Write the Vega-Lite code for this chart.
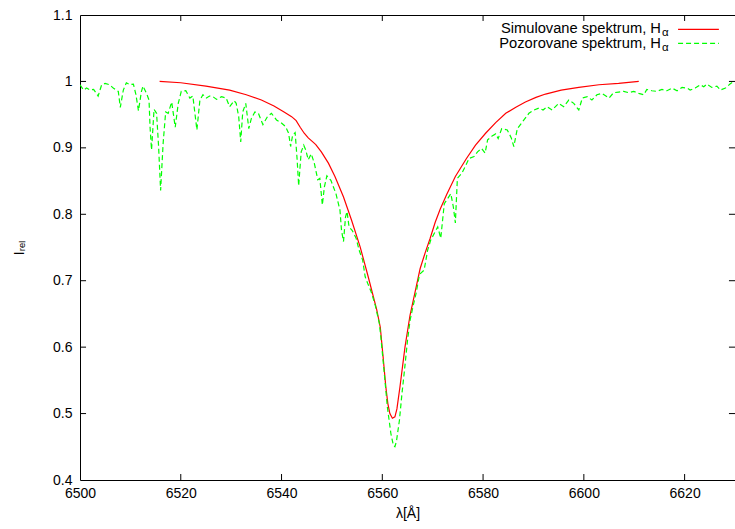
{
  "$schema": "https://vega.github.io/schema/vega-lite/v6.json",
  "width": 655,
  "height": 465,
  "autosize": {"type": "none"},
  "padding": {"left": 80, "top": 15, "right": 0, "bottom": 49},
  "config": {
    "font": "Liberation Sans",
    "view": {"stroke": "#000000", "strokeWidth": 1}
  },
  "datasets": {
    "sim": [
      {"lambda": 6515.8, "I": 1.000}, {"lambda": 6520.0, "I": 0.998}, {"lambda": 6525.0, "I": 0.993},
      {"lambda": 6529.7, "I": 0.987}, {"lambda": 6533.0, "I": 0.980}, {"lambda": 6536.0, "I": 0.972},
      {"lambda": 6538.5, "I": 0.963}, {"lambda": 6540.5, "I": 0.954}, {"lambda": 6542.0, "I": 0.947},
      {"lambda": 6542.9, "I": 0.941}, {"lambda": 6543.7, "I": 0.931}, {"lambda": 6544.5, "I": 0.922},
      {"lambda": 6545.3, "I": 0.915}, {"lambda": 6546.2, "I": 0.909}, {"lambda": 6546.8, "I": 0.905},
      {"lambda": 6547.9, "I": 0.894}, {"lambda": 6549.3, "I": 0.877}, {"lambda": 6550.6, "I": 0.857},
      {"lambda": 6552.3, "I": 0.826}, {"lambda": 6553.9, "I": 0.791}, {"lambda": 6555.6, "I": 0.751},
      {"lambda": 6557.2, "I": 0.706}, {"lambda": 6558.9, "I": 0.656}, {"lambda": 6559.6, "I": 0.630},
      {"lambda": 6560.1, "I": 0.590}, {"lambda": 6560.7, "I": 0.540}, {"lambda": 6561.1, "I": 0.515},
      {"lambda": 6561.5, "I": 0.500}, {"lambda": 6562.0, "I": 0.493}, {"lambda": 6562.5, "I": 0.495},
      {"lambda": 6562.9, "I": 0.507}, {"lambda": 6563.5, "I": 0.540}, {"lambda": 6564.5, "I": 0.600},
      {"lambda": 6565.5, "I": 0.648}, {"lambda": 6566.5, "I": 0.683}, {"lambda": 6567.5, "I": 0.718},
      {"lambda": 6568.5, "I": 0.742}, {"lambda": 6569.5, "I": 0.764}, {"lambda": 6570.5, "I": 0.788},
      {"lambda": 6571.5, "I": 0.808}, {"lambda": 6572.8, "I": 0.830}, {"lambda": 6574.5, "I": 0.857},
      {"lambda": 6576.7, "I": 0.884}, {"lambda": 6578.5, "I": 0.904}, {"lambda": 6580.5, "I": 0.922},
      {"lambda": 6582.5, "I": 0.938}, {"lambda": 6584.5, "I": 0.952}, {"lambda": 6586.5, "I": 0.961},
      {"lambda": 6588.4, "I": 0.969}, {"lambda": 6590.5, "I": 0.976}, {"lambda": 6592.4, "I": 0.981},
      {"lambda": 6595.5, "I": 0.987}, {"lambda": 6599.0, "I": 0.991}, {"lambda": 6603.0, "I": 0.995},
      {"lambda": 6606.9, "I": 0.997}, {"lambda": 6610.9, "I": 1.000}
    ],
    "obs": [
      {"lambda": 6500.0, "I": 0.995}, {"lambda": 6500.7, "I": 0.987}, {"lambda": 6501.3, "I": 0.990},
      {"lambda": 6502.0, "I": 0.987}, {"lambda": 6502.7, "I": 0.988}, {"lambda": 6503.6, "I": 0.978},
      {"lambda": 6504.3, "I": 0.995}, {"lambda": 6505.0, "I": 0.997}, {"lambda": 6505.9, "I": 0.995},
      {"lambda": 6506.6, "I": 0.990}, {"lambda": 6507.6, "I": 0.985}, {"lambda": 6508.0, "I": 0.961},
      {"lambda": 6508.6, "I": 0.987}, {"lambda": 6509.2, "I": 0.998}, {"lambda": 6509.9, "I": 0.995},
      {"lambda": 6510.6, "I": 0.996}, {"lambda": 6511.1, "I": 0.980}, {"lambda": 6511.6, "I": 0.956},
      {"lambda": 6512.2, "I": 0.985}, {"lambda": 6512.5, "I": 0.993}, {"lambda": 6513.2, "I": 0.982},
      {"lambda": 6513.7, "I": 0.972}, {"lambda": 6513.9, "I": 0.932}, {"lambda": 6514.2, "I": 0.897},
      {"lambda": 6514.7, "I": 0.958}, {"lambda": 6515.2, "I": 0.952}, {"lambda": 6515.6, "I": 0.902},
      {"lambda": 6516.0, "I": 0.836}, {"lambda": 6516.5, "I": 0.907}, {"lambda": 6517.0, "I": 0.954},
      {"lambda": 6517.5, "I": 0.952}, {"lambda": 6518.2, "I": 0.969}, {"lambda": 6518.9, "I": 0.931},
      {"lambda": 6519.5, "I": 0.967}, {"lambda": 6520.1, "I": 0.985}, {"lambda": 6521.0, "I": 0.986},
      {"lambda": 6521.8, "I": 0.975}, {"lambda": 6522.4, "I": 0.978}, {"lambda": 6523.2, "I": 0.927},
      {"lambda": 6523.8, "I": 0.972}, {"lambda": 6524.4, "I": 0.980}, {"lambda": 6525.1, "I": 0.975},
      {"lambda": 6525.7, "I": 0.978}, {"lambda": 6526.4, "I": 0.977}, {"lambda": 6527.1, "I": 0.973},
      {"lambda": 6528.1, "I": 0.977}, {"lambda": 6529.0, "I": 0.975}, {"lambda": 6529.7, "I": 0.962},
      {"lambda": 6530.6, "I": 0.971}, {"lambda": 6531.0, "I": 0.967}, {"lambda": 6531.5, "I": 0.947},
      {"lambda": 6531.9, "I": 0.909}, {"lambda": 6532.3, "I": 0.954}, {"lambda": 6532.9, "I": 0.967},
      {"lambda": 6533.5, "I": 0.929}, {"lambda": 6534.0, "I": 0.944}, {"lambda": 6534.7, "I": 0.954},
      {"lambda": 6535.4, "I": 0.952}, {"lambda": 6536.3, "I": 0.935}, {"lambda": 6537.2, "I": 0.947},
      {"lambda": 6538.0, "I": 0.952}, {"lambda": 6539.0, "I": 0.942}, {"lambda": 6539.9, "I": 0.938},
      {"lambda": 6540.8, "I": 0.932}, {"lambda": 6541.4, "I": 0.922}, {"lambda": 6541.8, "I": 0.902},
      {"lambda": 6542.2, "I": 0.919}, {"lambda": 6542.7, "I": 0.923}, {"lambda": 6543.1, "I": 0.882},
      {"lambda": 6543.4, "I": 0.843}, {"lambda": 6543.9, "I": 0.894}, {"lambda": 6544.4, "I": 0.904},
      {"lambda": 6544.8, "I": 0.897}, {"lambda": 6545.3, "I": 0.882}, {"lambda": 6545.9, "I": 0.891},
      {"lambda": 6546.5, "I": 0.877}, {"lambda": 6547.2, "I": 0.852}, {"lambda": 6547.6, "I": 0.854},
      {"lambda": 6548.1, "I": 0.814}, {"lambda": 6548.5, "I": 0.841}, {"lambda": 6549.0, "I": 0.858},
      {"lambda": 6549.8, "I": 0.851}, {"lambda": 6550.8, "I": 0.831}, {"lambda": 6551.6, "I": 0.806},
      {"lambda": 6551.9, "I": 0.776}, {"lambda": 6552.3, "I": 0.759}, {"lambda": 6552.7, "I": 0.796},
      {"lambda": 6553.0, "I": 0.804}, {"lambda": 6553.4, "I": 0.781}, {"lambda": 6554.0, "I": 0.776},
      {"lambda": 6554.8, "I": 0.764}, {"lambda": 6555.4, "I": 0.746}, {"lambda": 6556.1, "I": 0.731},
      {"lambda": 6556.6, "I": 0.706}, {"lambda": 6557.1, "I": 0.696}, {"lambda": 6557.8, "I": 0.683},
      {"lambda": 6558.6, "I": 0.663}, {"lambda": 6559.4, "I": 0.636}, {"lambda": 6559.7, "I": 0.616},
      {"lambda": 6560.4, "I": 0.560}, {"lambda": 6561.0, "I": 0.510}, {"lambda": 6561.7, "I": 0.470},
      {"lambda": 6562.2, "I": 0.452}, {"lambda": 6562.5, "I": 0.450}, {"lambda": 6562.8, "I": 0.458},
      {"lambda": 6563.4, "I": 0.490}, {"lambda": 6563.9, "I": 0.530}, {"lambda": 6564.4, "I": 0.565},
      {"lambda": 6565.0, "I": 0.610}, {"lambda": 6565.5, "I": 0.640}, {"lambda": 6566.0, "I": 0.658},
      {"lambda": 6566.7, "I": 0.681}, {"lambda": 6567.3, "I": 0.706}, {"lambda": 6567.6, "I": 0.711},
      {"lambda": 6568.3, "I": 0.716}, {"lambda": 6569.0, "I": 0.746}, {"lambda": 6569.6, "I": 0.761},
      {"lambda": 6570.3, "I": 0.771}, {"lambda": 6571.0, "I": 0.781}, {"lambda": 6571.6, "I": 0.764},
      {"lambda": 6572.3, "I": 0.816}, {"lambda": 6573.0, "I": 0.824}, {"lambda": 6573.6, "I": 0.831},
      {"lambda": 6574.1, "I": 0.811}, {"lambda": 6574.5, "I": 0.787}, {"lambda": 6574.9, "I": 0.854},
      {"lambda": 6575.8, "I": 0.862}, {"lambda": 6576.6, "I": 0.874}, {"lambda": 6577.2, "I": 0.884},
      {"lambda": 6578.2, "I": 0.887}, {"lambda": 6578.9, "I": 0.894}, {"lambda": 6579.7, "I": 0.899},
      {"lambda": 6580.4, "I": 0.892}, {"lambda": 6580.9, "I": 0.912}, {"lambda": 6581.8, "I": 0.918},
      {"lambda": 6582.5, "I": 0.921}, {"lambda": 6583.0, "I": 0.914}, {"lambda": 6583.7, "I": 0.929},
      {"lambda": 6584.8, "I": 0.927}, {"lambda": 6585.6, "I": 0.915}, {"lambda": 6586.1, "I": 0.902},
      {"lambda": 6586.8, "I": 0.929}, {"lambda": 6587.8, "I": 0.939}, {"lambda": 6589.1, "I": 0.952},
      {"lambda": 6590.1, "I": 0.957}, {"lambda": 6591.1, "I": 0.960}, {"lambda": 6591.9, "I": 0.957},
      {"lambda": 6592.7, "I": 0.962}, {"lambda": 6593.7, "I": 0.957}, {"lambda": 6595.0, "I": 0.967},
      {"lambda": 6596.0, "I": 0.962}, {"lambda": 6597.0, "I": 0.972}, {"lambda": 6598.0, "I": 0.967},
      {"lambda": 6599.0, "I": 0.957}, {"lambda": 6599.7, "I": 0.975}, {"lambda": 6600.7, "I": 0.977},
      {"lambda": 6601.6, "I": 0.972}, {"lambda": 6602.6, "I": 0.980}, {"lambda": 6603.6, "I": 0.982},
      {"lambda": 6605.0, "I": 0.975}, {"lambda": 6605.9, "I": 0.983}, {"lambda": 6606.9, "I": 0.984},
      {"lambda": 6607.9, "I": 0.985}, {"lambda": 6608.9, "I": 0.983}, {"lambda": 6609.9, "I": 0.985},
      {"lambda": 6610.9, "I": 0.982}, {"lambda": 6611.9, "I": 0.980}, {"lambda": 6612.5, "I": 0.988},
      {"lambda": 6613.5, "I": 0.986}, {"lambda": 6614.5, "I": 0.985}, {"lambda": 6615.5, "I": 0.988},
      {"lambda": 6616.5, "I": 0.986}, {"lambda": 6617.5, "I": 0.990}, {"lambda": 6618.5, "I": 0.986},
      {"lambda": 6619.5, "I": 0.991}, {"lambda": 6620.5, "I": 0.990}, {"lambda": 6621.1, "I": 0.987},
      {"lambda": 6622.1, "I": 0.990}, {"lambda": 6623.1, "I": 0.995}, {"lambda": 6623.8, "I": 0.992},
      {"lambda": 6624.4, "I": 0.996}, {"lambda": 6625.4, "I": 0.991}, {"lambda": 6626.4, "I": 0.993},
      {"lambda": 6627.1, "I": 0.987}, {"lambda": 6628.1, "I": 0.990}, {"lambda": 6629.0, "I": 0.996},
      {"lambda": 6629.7, "I": 1.000}
    ],
    "xticks": [{"t": 6520}, {"t": 6540}, {"t": 6560}, {"t": 6580}, {"t": 6600}, {"t": 6620}],
    "yticks": [{"v": 0.5}, {"v": 0.6}, {"v": 0.7}, {"v": 0.8}, {"v": 0.9}, {"v": 1.0}],
    "one": [{}]
  },
  "layer": [
    {
      "data": {"name": "sim"},
      "mark": {"type": "line", "color": "#ff0000", "strokeWidth": 1.2, "clip": true},
      "encoding": {
        "x": {"field": "lambda", "type": "quantitative", "scale": {"domain": [6500, 6630], "nice": false, "zero": false},
          "axis": {"orient": "bottom", "values": [6500, 6520, 6540, 6560, 6580, 6600, 6620], "format": "d", "ticks": false, "grid": false, "domain": false, "labelPadding": 6, "labelFont": "Liberation Sans", "labelFontSize": 14, "labelColor": "#000000", "title": "λ[Å]", "titleFont": "Liberation Sans", "titleFontSize": 14, "titleFontWeight": "normal", "titleColor": "#000000", "titlePadding": 6, "labelFlush": false}},
        "y": {"field": "I", "type": "quantitative", "scale": {"domain": [0.4, 1.1], "nice": false, "zero": false},
          "axis": {"orient": "left", "values": [0.4, 0.5, 0.6, 0.7, 0.8, 0.9, 1.0, 1.1], "format": ".1~f", "ticks": false, "grid": false, "domain": false, "labelPadding": 8, "labelFont": "Liberation Sans", "labelFontSize": 14, "labelColor": "#000000", "title": "Iᵣₑₗ", "titleFont": "Liberation Sans", "titleFontSize": 14, "titleFontWeight": "normal", "titleColor": "#000000", "titlePadding": 26, "labelFlush": false}}
      }
    },
    {
      "data": {"name": "obs"},
      "mark": {"type": "line", "color": "#00ff00", "strokeWidth": 1.2, "strokeDash": [5, 3], "clip": true},
      "encoding": {
        "x": {"field": "lambda", "type": "quantitative"},
        "y": {"field": "I", "type": "quantitative"}
      }
    },
    {
      "data": {"name": "xticks"},
      "mark": {"type": "rule", "color": "#000000", "strokeWidth": 1},
      "encoding": {
        "x": {"field": "t", "type": "quantitative"},
        "y": {"datum": 0.4, "type": "quantitative"},
        "y2": {"datum": 0.409}
      }
    },
    {
      "data": {"name": "xticks"},
      "mark": {"type": "rule", "color": "#000000", "strokeWidth": 1},
      "encoding": {
        "x": {"field": "t", "type": "quantitative"},
        "y": {"datum": 1.1, "type": "quantitative"},
        "y2": {"datum": 1.091}
      }
    },
    {
      "data": {"name": "yticks"},
      "mark": {"type": "rule", "color": "#000000", "strokeWidth": 1},
      "encoding": {
        "y": {"field": "v", "type": "quantitative"},
        "x": {"datum": 6500, "type": "quantitative"},
        "x2": {"datum": 6501.2}
      }
    },
    {
      "data": {"name": "yticks"},
      "mark": {"type": "rule", "color": "#000000", "strokeWidth": 1},
      "encoding": {
        "y": {"field": "v", "type": "quantitative"},
        "x": {"datum": 6630, "type": "quantitative"},
        "x2": {"datum": 6628.8}
      }
    },
    {
      "data": {"name": "one"},
      "mark": {"type": "rule", "color": "#ff0000", "strokeWidth": 1.2},
      "encoding": {
        "x": {"datum": 6618.7, "type": "quantitative"},
        "x2": {"datum": 6626.8},
        "y": {"datum": 1.0785, "type": "quantitative"}
      }
    },
    {
      "data": {"name": "one"},
      "mark": {"type": "rule", "color": "#00ff00", "strokeWidth": 1.2, "strokeDash": [5, 3]},
      "encoding": {
        "x": {"datum": 6618.7, "type": "quantitative"},
        "x2": {"datum": 6626.8},
        "y": {"datum": 1.0574, "type": "quantitative"}
      }
    },
    {
      "data": {"name": "one"},
      "mark": {"type": "text", "align": "right", "baseline": "alphabetic", "fontSize": 14.7, "color": "#000000", "text": "Simulovane spektrum, H"},
      "encoding": {
        "x": {"datum": 6615.3, "type": "quantitative"},
        "y": {"datum": 1.0724, "type": "quantitative"}
      }
    },
    {
      "data": {"name": "one"},
      "mark": {"type": "text", "align": "right", "baseline": "alphabetic", "fontSize": 14.7, "color": "#000000", "text": "Pozorovane spektrum, H"},
      "encoding": {
        "x": {"datum": 6615.3, "type": "quantitative"},
        "y": {"datum": 1.0499, "type": "quantitative"}
      }
    },
    {
      "data": {"name": "one"},
      "mark": {"type": "text", "align": "left", "baseline": "alphabetic", "fontSize": 11.5, "color": "#000000", "text": "α"},
      "encoding": {
        "x": {"datum": 6615.5, "type": "quantitative"},
        "y": {"datum": 1.0684, "type": "quantitative"}
      }
    },
    {
      "data": {"name": "one"},
      "mark": {"type": "text", "align": "left", "baseline": "alphabetic", "fontSize": 11.5, "color": "#000000", "text": "α"},
      "encoding": {
        "x": {"datum": 6615.5, "type": "quantitative"},
        "y": {"datum": 1.0459, "type": "quantitative"}
      }
    }
  ]
}
